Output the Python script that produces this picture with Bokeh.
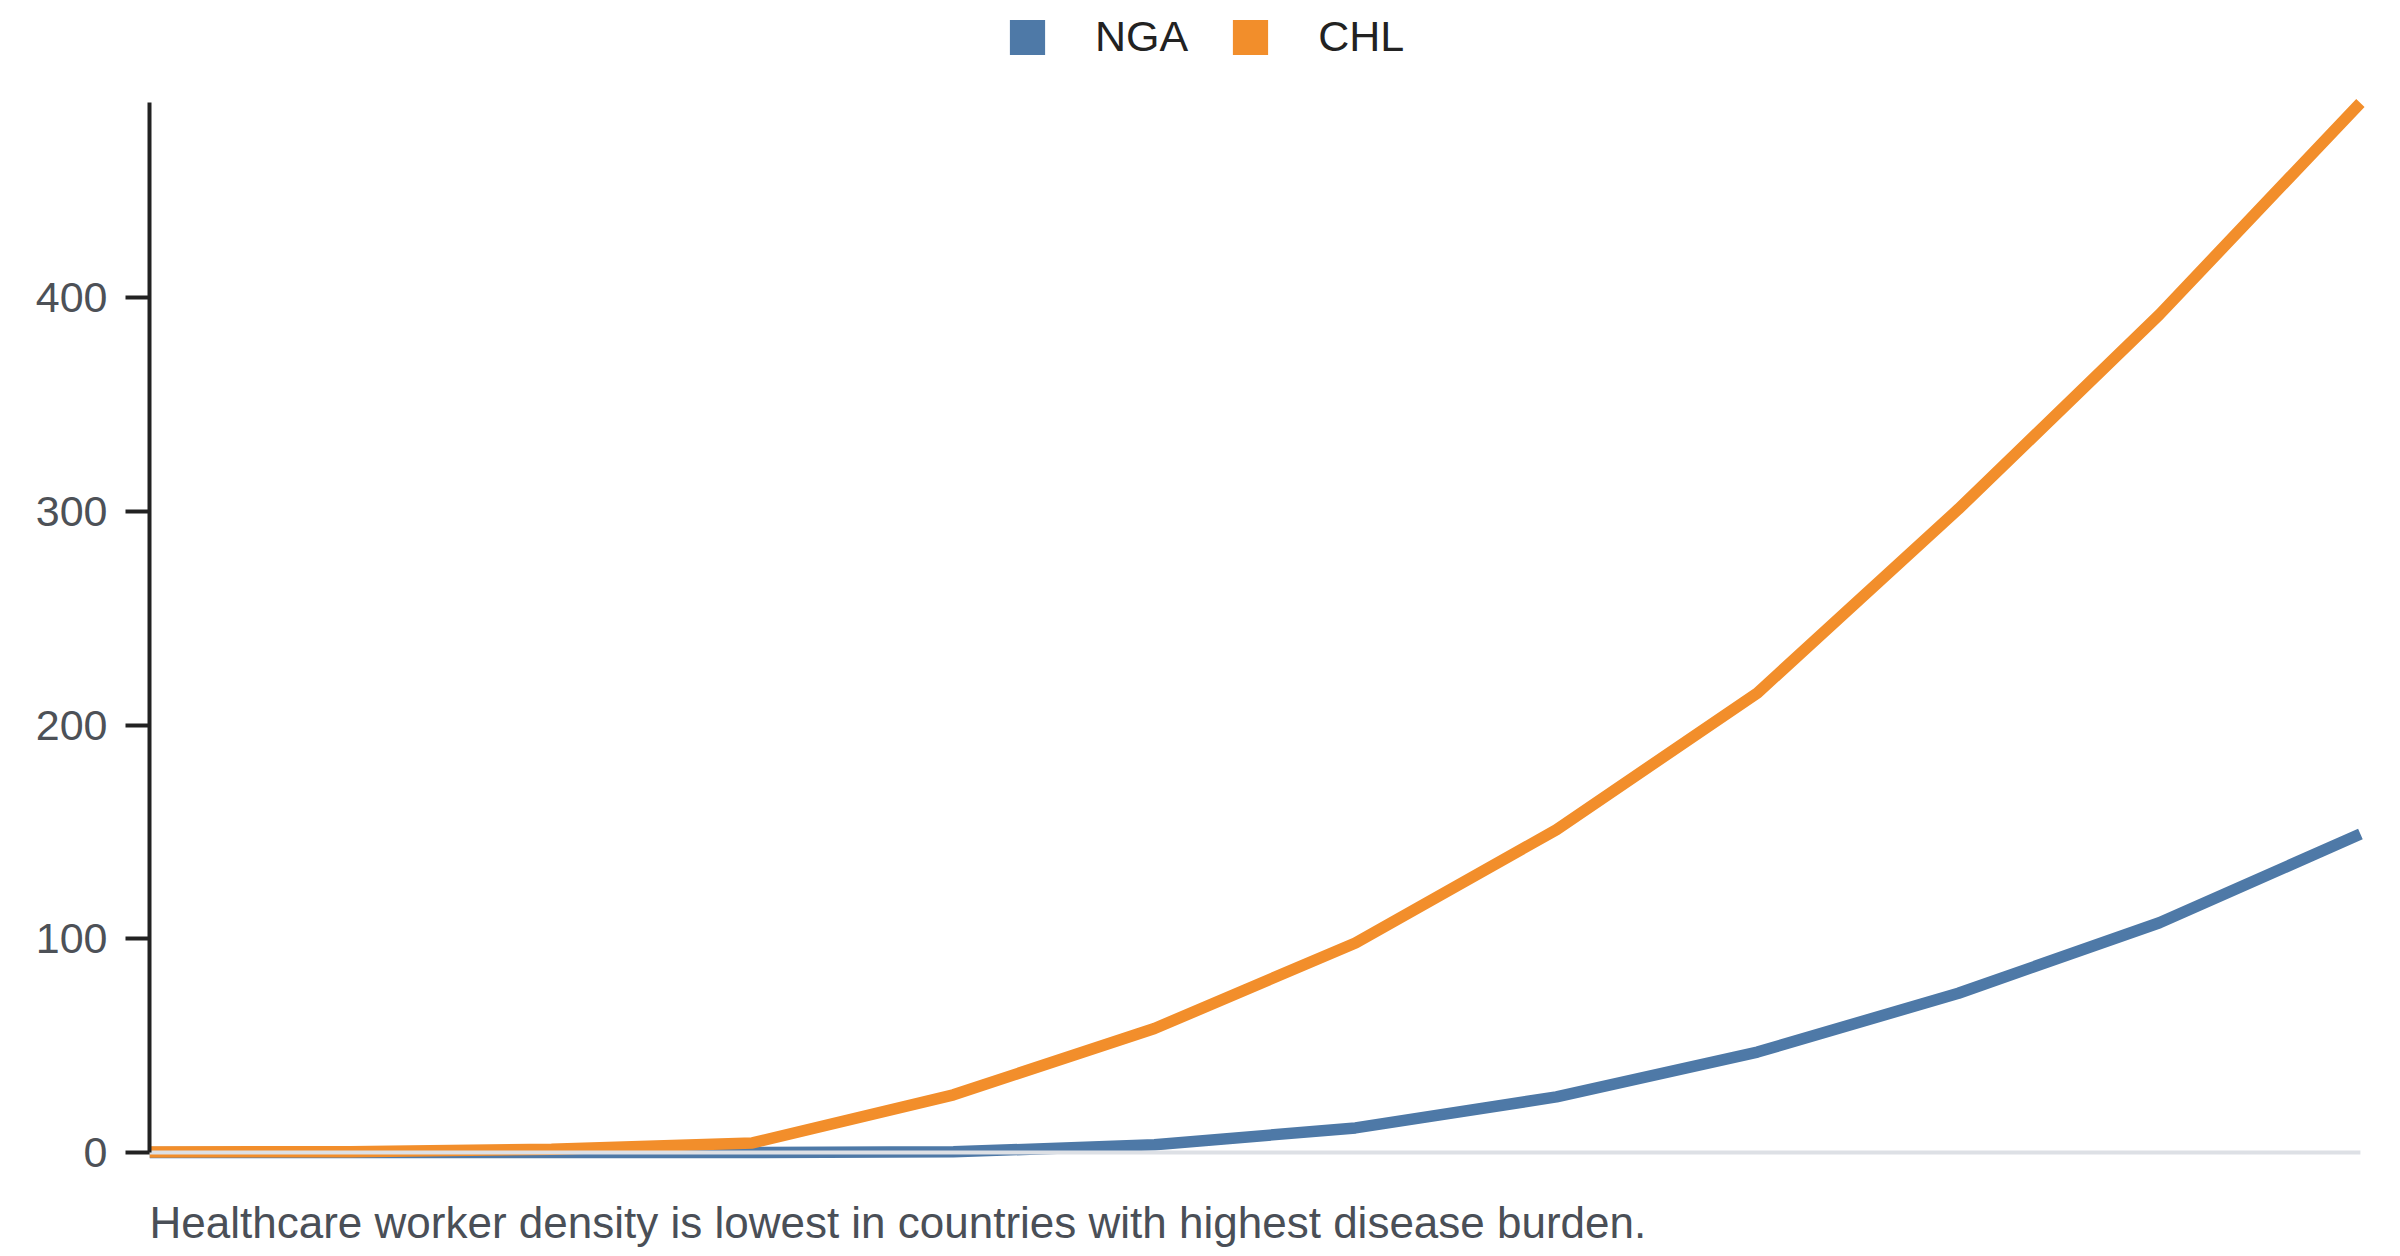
from bokeh.plotting import figure
from bokeh.embed import file_html
from bokeh.resources import INLINE
from bokeh.models import Range1d, FixedTicker, Legend, LegendItem, Label

# chart data
steps = list(range(12))
nga = [0, 0, 0, 0, 0.3, 3.6, 11.5, 26, 47, 74.5, 107.5, 149]
chl = [0.2, 0.4, 1.5, 4.5, 27, 58, 98, 151, 215, 301, 392, 491]
y_ticks = [0, 100, 200, 300, 400]
series = [("NGA", nga, "#4e79a7"), ("CHL", chl, "#f28e2b")]
caption = "Healthcare worker density is lowest in countries with highest disease burden."

FONT = "Liberation Sans"
H = 1250

# frame covers the full height so the legend and caption are not clipped;
# the y range is padded so that 0 sits at y=1152 px and 100 units = 213.75 px
px_per_unit = 2.1375
zero_px = 1152
y_start = -(H - zero_px) / px_per_unit
y_end = zero_px / px_per_unit

p = figure(width=2384, height=H,
           title=None,
           output_backend="svg",
           toolbar_location=None,
           x_range=Range1d(steps[0], steps[-1] + 0.1),
           y_range=Range1d(y_start, y_end),
           x_axis_location=None,
           min_border=0, min_border_left=149, min_border_right=4)

p.grid.visible = False
p.outline_line_color = None

items = []
for name, vals, color in series:
    p.line(steps, vals, line_color=color, line_width=11.5)
    # NaN quad, never drawn, only gives the square legend swatch
    swatch = p.quad(left=[float("nan")], right=[float("nan")],
                    top=[float("nan")], bottom=[float("nan")],
                    fill_color=color, line_color=None)
    items.append(LegendItem(label=name, renderers=[swatch]))

# light baseline at zero drawn over the series
p.line([steps[0], steps[-1]], [0, 0], line_color="#dde0e5", line_width=4)

yaxis = p.yaxis[0]
yaxis.ticker = FixedTicker(ticks=y_ticks)
yaxis.bounds = (0, max(chl))
yaxis.axis_line_width = 4
yaxis.axis_line_color = "#222222"
yaxis.major_tick_line_width = 4
yaxis.major_tick_line_color = "#222222"
yaxis.major_tick_out = 24
yaxis.major_tick_in = 0
yaxis.minor_tick_line_color = None
yaxis.major_label_standoff = 18
yaxis.major_label_text_font = FONT
yaxis.major_label_text_font_size = "43px"
yaxis.major_label_text_color = "#4d5157"

# legend positioned from the frame's bottom-left corner
# (area swatches are drawn at 80% of the glyph box)
legend = Legend(items=items, orientation="horizontal", location=(856, 1189),
                glyph_width=44, glyph_height=44, label_standoff=46, spacing=40,
                padding=0, margin=0, border_line_color=None,
                background_fill_alpha=0,
                label_text_font=FONT, label_text_font_size="43px",
                label_text_color="#222222")
p.add_layout(legend, "center")

p.add_layout(Label(x=0, y=28, x_units="screen", y_units="screen",
                   text=caption, text_align="left", text_baseline="alphabetic",
                   text_font=FONT, text_font_size="44px",
                   text_color="#4a4f57"))

open("out.html", "w").write(file_html(p, INLINE))
